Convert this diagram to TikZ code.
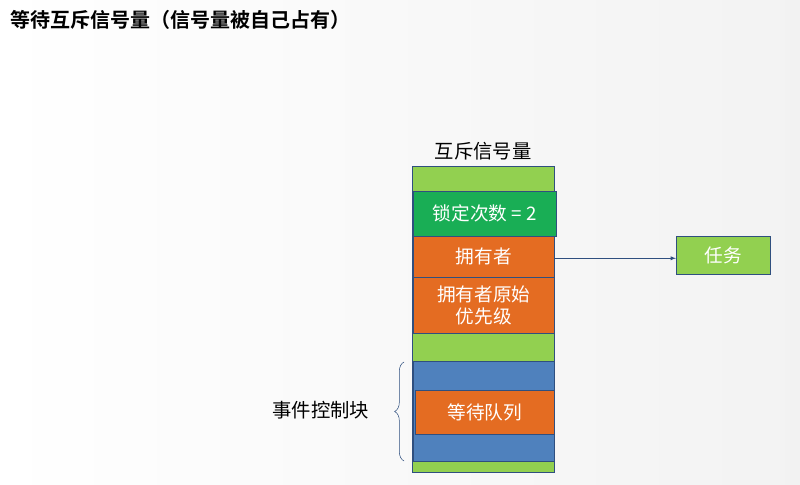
\documentclass[tikz,border=0pt]{standalone}
\usepackage{fontspec}
\setmainfont{Noto Sans CJK SC}[BoldFont={Noto Sans CJK SC Bold}]
\usetikzlibrary{positioning,decorations.pathreplacing}
\definecolor{lgreen}{HTML}{92D050}
\definecolor{dgreen}{HTML}{19AE55}
\definecolor{orng}{HTML}{E46C22}
\definecolor{blu}{HTML}{4F81BD}
\definecolor{edge}{HTML}{2F4F7F}
\tikzset{
  cell/.style={draw=edge, thin, anchor=north west, inner sep=0pt, text=white, font=\fontsize{14}{16.5}\selectfont, align=center},
  lbl/.style={font=\fontsize{14.5}{17}\selectfont}
}
\begin{document}
\begin{tikzpicture}[x=0.75pt,y=-0.75pt]
  \useasboundingbox (0,0) rectangle (800,485);
  \shade[left color=white, right color=gray!10] (0,0) rectangle (800,485);
  % title
  \node[anchor=west, font=\bfseries\fontsize{15}{18}\selectfont] (title) at (6,20) {等待互斥信号量（信号量被自己占有）};
  % column
  \node[cell, fill=lgreen, minimum width=142*0.75pt, minimum height=306*0.75pt] (col) at (412,166) {};
  \node[cell, fill=dgreen, minimum width=143*0.75pt, minimum height=45*0.75pt] (cnt) at (413,191) {锁定次数 = 2};
  \node[cell, fill=orng, minimum width=141*0.75pt, minimum height=41*0.75pt] (own) at (413,236) {拥有者};
  \node[cell, fill=orng, minimum width=141*0.75pt, minimum height=56*0.75pt] (prio) at (413,277) {拥有者原始\\优先级};
  \node[cell, fill=blu, minimum width=141*0.75pt, minimum height=100*0.75pt] (ecb) at (413,361) {};
  \node[cell, fill=orng, minimum width=139*0.75pt, minimum height=44*0.75pt] (wait) at (415,390) {等待队列};
  \node[lbl, above=1pt of col] (sem) {互斥信号量};
  % task
  \node[cell, fill=lgreen, minimum width=94*0.75pt, minimum height=38*0.75pt] (task) at (676,236) {任务};
  \draw[edge, -latex] ([yshift=-1.5*0.75pt]own.east) -- ([yshift=-1.5*0.75pt]own.east -| task.west);
  % brace
  \draw[edge, decorate, decoration={brace, amplitude=7pt, aspect=0.5}] (404,461) -- (404,362);
  \node[lbl, anchor=east] (ecblbl) at (374,410) {事件控制块};
\end{tikzpicture}
\end{document}
